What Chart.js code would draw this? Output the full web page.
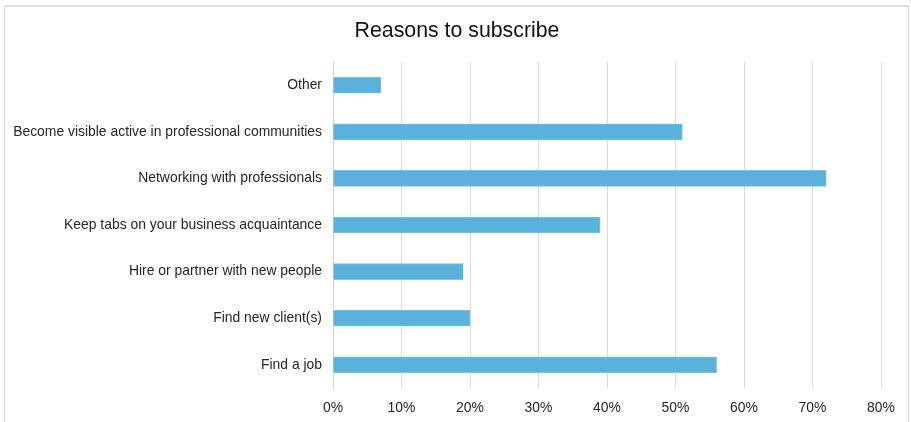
<!DOCTYPE html>
<html>
<head>
<meta charset="utf-8">
<script src="https://cdn.jsdelivr.net/npm/chart.js@4"></script>
<style>
  html, body { margin: 0; padding: 0; background: #fff; overflow: hidden; }
  #wrap { position: relative; width: 911px; height: 422px; }
  #frame { position: absolute; left: 4px; top: 5px; width: 905px; height: 430px;
           border-left: 1px solid #d4d4d4; border-right: 1px solid #d9d9d9; border-top: 2px solid #dedede; box-sizing: border-box; }
  #title { position: absolute; left: 0; width: 914px; top: 17px; text-align: center;
           font-family: "Liberation Sans", Arial, sans-serif; font-size: 21.3px; color: #111; line-height: 26px; }
  canvas { position: absolute; left: 0; top: 0; }
</style>
</head>
<body>
<div id="wrap">
  <div id="frame"></div>
  <canvas id="c" width="911" height="422"></canvas>
  <div id="title"></div>
</div>
<script>
const categories = [
  "Other",
  "Become visible active in professional communities",
  "Networking with professionals",
  "Keep tabs on your business acquaintance",
  "Hire or partner with new people",
  "Find new client(s)",
  "Find a job"
];
const values = [7, 51, 72, 39, 19, 20, 56];
const chartTitle = "Reasons to subscribe";

document.getElementById('title').textContent = chartTitle;

const labelFont = { family: '"Liberation Sans", Arial, sans-serif', size: 13.9 };

new Chart(document.getElementById('c'), {
  type: 'bar',
  data: {
    labels: categories,
    datasets: [{
      data: values,
      backgroundColor: '#5ab2dc',
      borderColor: '#7cc2e4',
      borderWidth: 1,
      borderSkipped: 'start',
      barThickness: 16
    }]
  },
  options: {
    indexAxis: 'y',
    responsive: false,
    animation: false,
    devicePixelRatio: 1,
    layout: { padding: { left: 0, right: 30, top: 62, bottom: 0 } },
    plugins: {
      legend: { display: false },
      tooltip: { enabled: false },
      title: { display: false }
    },
    scales: {
      x: {
        min: 0, max: 80,
        ticks: {
          stepSize: 10,
          callback: v => v + '%',
          color: '#262626',
          font: labelFont,
          padding: 12
        },
        grid: { color: '#d9d9d9', lineWidth: 1, drawTicks: false },
        border: { display: false },
        afterFit: s => { s.height = 34; }
      },
      y: {
        ticks: {
          color: '#262626',
          font: labelFont,
          padding: 11
        },
        grid: { display: false, drawTicks: false },
        border: { display: true, color: '#d0d0d0', width: 1 },
        afterFit: s => { s.width = 333; }
      }
    }
  }
});
</script>
</body>
</html>
